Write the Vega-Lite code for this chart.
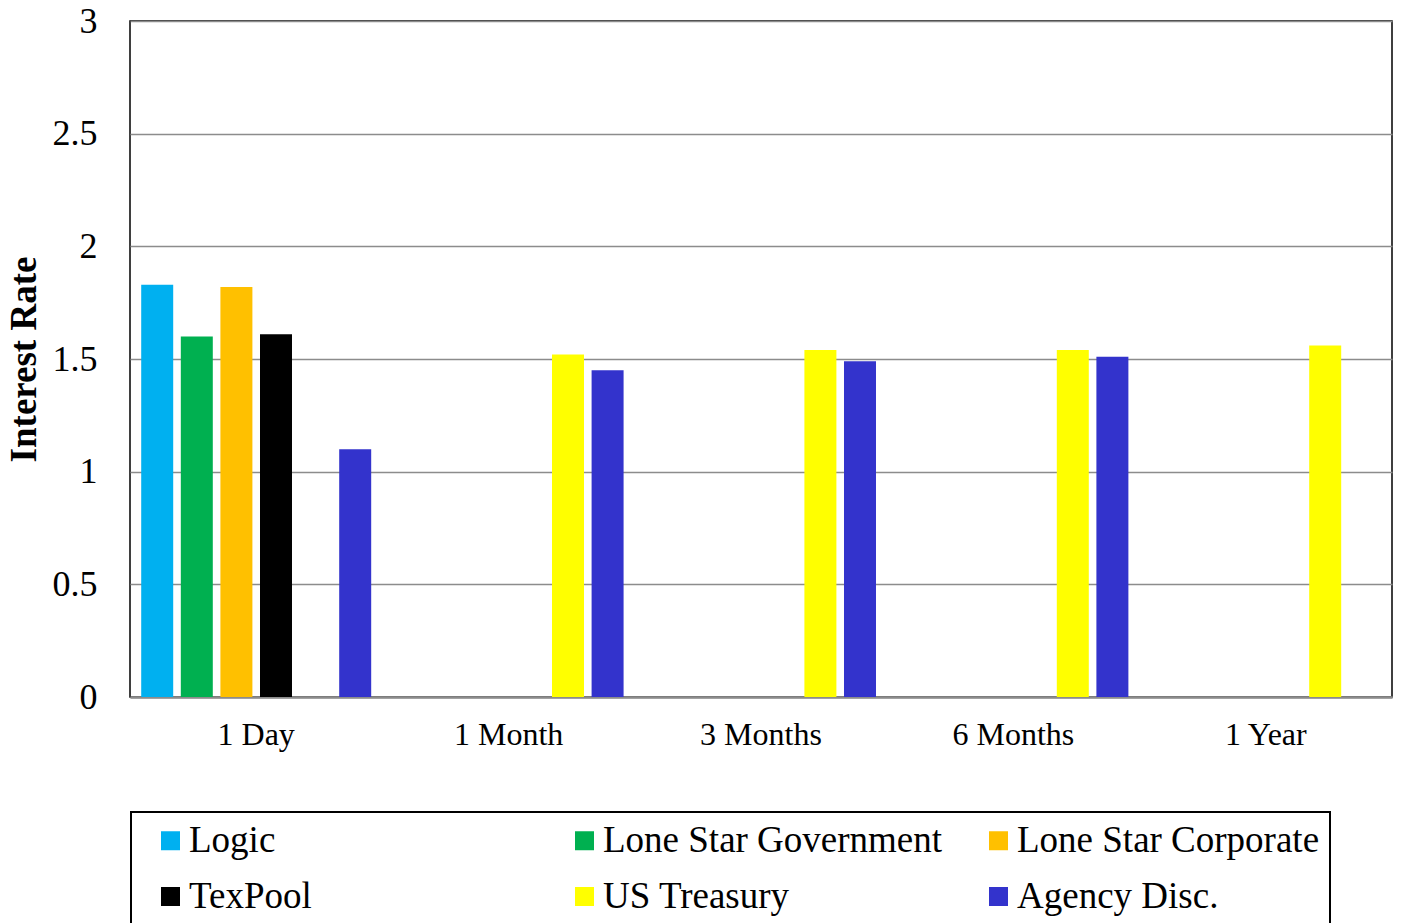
{
  "$schema": "https://vega.github.io/schema/vega-lite/v6.json",
  "autosize": "none",
  "width": 1262,
  "height": 676,
  "padding": {"left": 130, "top": 21, "right": 11, "bottom": 226},
  "background": "white",
  "config": {
    "font": "Liberation Serif",
    "view": {"stroke": "#000000", "strokeWidth": 1.5}
  },
  "data": {
    "values": [
      {"term": "1 Day", "fund": "Logic", "rate": 1.83},
      {"term": "1 Day", "fund": "Lone Star Government", "rate": 1.60},
      {"term": "1 Day", "fund": "Lone Star Corporate", "rate": 1.82},
      {"term": "1 Day", "fund": "TexPool", "rate": 1.61},
      {"term": "1 Day", "fund": "Agency Disc.", "rate": 1.10},
      {"term": "1 Month", "fund": "US Treasury", "rate": 1.52},
      {"term": "1 Month", "fund": "Agency Disc.", "rate": 1.45},
      {"term": "3 Months", "fund": "US Treasury", "rate": 1.54},
      {"term": "3 Months", "fund": "Agency Disc.", "rate": 1.49},
      {"term": "6 Months", "fund": "US Treasury", "rate": 1.54},
      {"term": "6 Months", "fund": "Agency Disc.", "rate": 1.51},
      {"term": "1 Year", "fund": "US Treasury", "rate": 1.56}
    ]
  },
  "mark": {"type": "bar"},
  "encoding": {
    "x": {
      "field": "term",
      "type": "nominal",
      "sort": ["1 Day", "1 Month", "3 Months", "6 Months", "1 Year"],
      "scale": {"domain": ["1 Day", "1 Month", "3 Months", "6 Months", "1 Year"], "paddingInner": 0, "paddingOuter": 0},
      "axis": {
        "title": null,
        "labelAngle": 0,
        "labelFontSize": 32,
        "labelColor": "#000000",
        "labelPadding": 22,
        "ticks": false,
        "domainColor": "#8c8c8c",
        "domainWidth": 2.5
      }
    },
    "xOffset": {
      "field": "fund",
      "type": "nominal",
      "scale": {
        "domain": ["Logic", "Lone Star Government", "Lone Star Corporate", "TexPool", "US Treasury", "Agency Disc."],
        "paddingInner": 0.192,
        "paddingOuter": 0.283
      }
    },
    "y": {
      "field": "rate",
      "type": "quantitative",
      "scale": {"domain": [0, 3], "nice": false},
      "axis": {
        "title": "Interest Rate",
        "titleFontSize": 37,
        "titleFontWeight": "bold",
        "titleColor": "#000000",
        "titlePadding": 9,
        "values": [0, 0.5, 1, 1.5, 2, 2.5, 3],
        "format": "~g",
        "labelFontSize": 36,
        "labelColor": "#000000",
        "labelPadding": 33,
        "ticks": false,
        "domain": false,
        "gridColor": "#8c8c8c",
        "gridWidth": 1.5
      }
    },
    "color": {
      "field": "fund",
      "type": "nominal",
      "scale": {
        "domain": ["Logic", "Lone Star Government", "Lone Star Corporate", "TexPool", "US Treasury", "Agency Disc."],
        "range": ["#00B0F0", "#00B050", "#FFC000", "#000000", "#FFFF00", "#3333CC"]
      },
      "legend": {
        "title": null,
        "orient": "none",
        "legendX": 1,
        "legendY": 791,
        "direction": "horizontal",
        "columns": 3,
        "gridAlign": "all",
        "columnPadding": 26,
        "rowPadding": 18,
        "padding": 10,
        "symbolOffset": 11,
        "symbolType": "square",
        "symbolSize": 361,
        "symbolStrokeWidth": 0,
        "labelFontSize": 37,
        "labelColor": "#000000",
        "labelOffset": 0,
        "labelLimit": 500,
        "strokeColor": "#000000",
        "encode": {"legend": {"update": {"strokeWidth": {"value": 2}}}}
      }
    }
  }
}
